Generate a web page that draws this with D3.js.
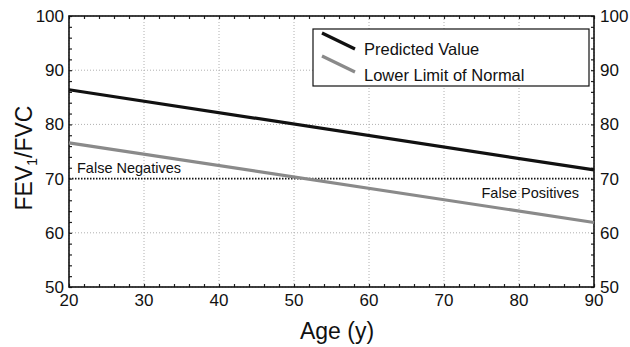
<!DOCTYPE html>
<html>
<head>
<meta charset="utf-8">
<script src="https://cdn.jsdelivr.net/npm/d3@7"></script>
<style>
  body { margin: 0; background: #fff; }
  svg { display: block; font-family: "Liberation Sans", Arial, sans-serif; }
</style>
</head>
<body>
<svg id="chart" width="630" height="347"></svg>
<script>
// data
var ages = [20, 90];
var predicted = [86.4, 71.6];
var lowerLimit = [76.6, 61.9];
var cutoff = 70;
var xTicks = [20, 30, 40, 50, 60, 70, 80, 90];
var yTicks = [50, 60, 70, 80, 90, 100];
var seriesNames = ['Predicted Value', 'Lower Limit of Normal'];

(function () {
    'use strict';
    var svg = d3.select('#chart');
    var left = 69, right = 594, top = 16, bottom = 287;

    var x = d3.scaleLinear().domain([20, 90]).range([left, right]);
    var y = d3.scaleLinear().domain([50, 100]).range([bottom, top]);

    // grid
    var grid = svg.append('g');
    xTicks.forEach(function (t) {
        grid.append('line').attr('x1', x(t)).attr('x2', x(t)).attr('y1', top).attr('y2', bottom)
            .attr('stroke', '#b0b0b0').attr('stroke-width', 1).attr('stroke-dasharray', '1,2');
    });
    yTicks.forEach(function (t) {
        grid.append('line').attr('x1', left).attr('x2', right).attr('y1', y(t)).attr('y2', y(t))
            .attr('stroke', '#b0b0b0').attr('stroke-width', 1).attr('stroke-dasharray', '1,2');
    });

    // axes with minor ticks inward on all four sides
    var minorX = d3.range(20, 90.1, 2), minorY = d3.range(50, 100.1, 2);
    svg.append('g').attr('transform', 'translate(0,' + bottom + ')')
        .call(d3.axisBottom(x).tickValues(minorX).tickSize(-3).tickFormat(''));
    svg.append('g').attr('transform', 'translate(0,' + top + ')')
        .call(d3.axisTop(x).tickValues(minorX).tickSize(-3).tickFormat(''));
    svg.append('g').attr('transform', 'translate(' + left + ',0)')
        .call(d3.axisLeft(y).tickValues(minorY).tickSize(-3).tickFormat(''));
    svg.append('g').attr('transform', 'translate(' + right + ',0)')
        .call(d3.axisRight(y).tickValues(minorY).tickSize(-3).tickFormat(''));
    svg.selectAll('.domain').remove();
    svg.selectAll('.tick line').attr('stroke', '#222').attr('stroke-width', 1.2);

    svg.append('rect').attr('x', left).attr('y', top).attr('width', right - left).attr('height', bottom - top)
        .attr('fill', 'none').attr('stroke', '#111').attr('stroke-width', 1.6);

    // tick labels
    var lbl = svg.append('g').attr('font-size', '17px').attr('fill', '#111');
    xTicks.forEach(function (t) {
        lbl.append('text').attr('x', x(t)).attr('y', 306).attr('text-anchor', 'middle').text(t);
    });
    yTicks.forEach(function (t) {
        lbl.append('text').attr('x', left - 5).attr('y', y(t) + 6).attr('text-anchor', 'end').text(t);
        lbl.append('text').attr('x', right + 6).attr('y', y(t) + 6).attr('text-anchor', 'start').text(t);
    });

    // axis titles
    svg.append('text').attr('x', 337).attr('y', 339).attr('text-anchor', 'middle')
        .attr('font-size', '23px').attr('fill', '#111').text('Age (y)');
    var yt = svg.append('text').attr('transform', 'translate(32,158) rotate(-90)')
        .attr('text-anchor', 'middle').attr('font-size', '23px').attr('fill', '#111');
    yt.append('tspan').text('FEV');
    yt.append('tspan').attr('font-size', '14px').attr('dy', 5).text('1');
    yt.append('tspan').attr('dy', -5).text('/FVC');

    // cutoff line at 70
    svg.append('line').attr('x1', left).attr('x2', right).attr('y1', y(cutoff)).attr('y2', y(cutoff))
        .attr('stroke', '#111').attr('stroke-width', 1.6).attr('stroke-dasharray', '1.5,1.5');

    var lineGen = d3.line().x(function (d) { return x(d[0]); }).y(function (d) { return y(d[1]); });
    svg.append('path').attr('d', lineGen(d3.zip(ages, lowerLimit)))
        .attr('fill', 'none').attr('stroke', '#8a8a8a').attr('stroke-width', 3.2);
    svg.append('path').attr('d', lineGen(d3.zip(ages, predicted)))
        .attr('fill', 'none').attr('stroke', '#111').attr('stroke-width', 3.2);

    // annotations
    svg.append('text').attr('x', 77).attr('y', 173).attr('font-size', '14.5px').attr('fill', '#111').text('False Negatives');
    svg.append('text').attr('x', 579).attr('y', 198).attr('text-anchor', 'end').attr('font-size', '14.5px').attr('fill', '#111').text('False Positives');

    // legend
    var lg = svg.append('g');
    lg.append('rect').attr('x', 313).attr('y', 29).attr('width', 276).attr('height', 57)
        .attr('fill', '#fff').attr('stroke', '#111').attr('stroke-width', 1.2);
    var colors = ['#111', '#8a8a8a'];
    seriesNames.forEach(function (name, i) {
        var oy = i * 23;
        lg.append('line').attr('x1', 322).attr('y1', 33 + oy).attr('x2', 355).attr('y2', 49 + oy)
            .attr('stroke', colors[i]).attr('stroke-width', 3.2);
        lg.append('text').attr('x', 364).attr('y', 55 + oy * 1.13).attr('font-size', '16.5px').attr('fill', '#111').text(name);
    });
})();
</script>
</body>
</html>
